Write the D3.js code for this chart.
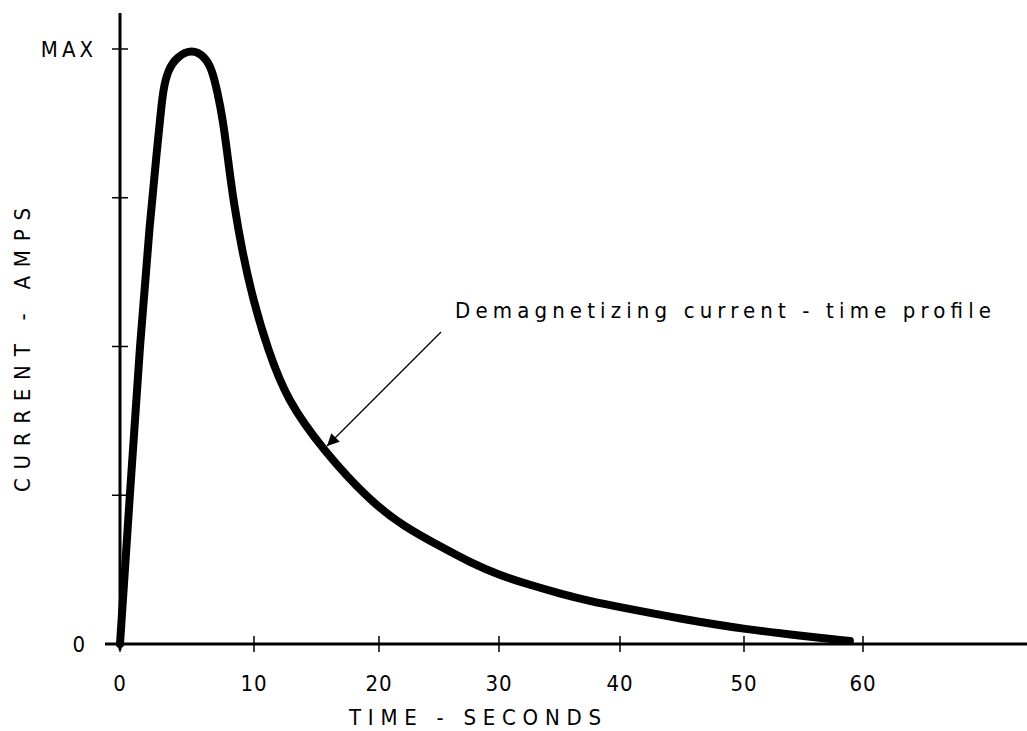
<!DOCTYPE html>
<html>
<head>
<meta charset="utf-8">
<script src="https://cdn.jsdelivr.net/npm/d3@7"></script>
<style>
  body { margin: 0; background: #fff; }
  text { font-family: "DejaVu Sans Condensed", "DejaVu Sans", sans-serif; fill: #000; }
</style>
</head>
<body>
<svg id="chart" width="1027" height="731"></svg>
<script>
// curve: time in seconds, current as fraction of MAX
const timeSec = [0, 0.75, 1.49, 2.24, 2.76, 2.99, 3.21, 3.58, 4.25, 5.37, 6.34, 6.87, 7.24, 7.69, 8.14, 8.5, 9.1, 9.93, 11.12, 12.64, 15.52,
  19.28, 22.1, 25.2, 27.7, 30, 32.6, 35, 37.5, 40, 45, 50, 55, 58.9];
const current = [0, 0.255, 0.506, 0.713, 0.83, 0.881, 0.931, 0.965, 0.987, 1.0, 0.987, 0.965, 0.931, 0.881, 0.8, 0.74, 0.662, 0.578, 0.494, 0.41, 0.326,
  0.24, 0.197, 0.163, 0.136, 0.116, 0.099, 0.085, 0.072, 0.062, 0.042, 0.025, 0.0134, 0.005];

const xTicks = [0, 10, 20, 30, 40, 50, 60];
const yTicks = [0, 0.25, 0.5, 0.75, 1];
const yTickLabels = ["0", "", "", "", "MAX"];

const xTitle = "TIME  -   SECONDS";
const yTitle = "CURRENT  -   AMPS";
const note = "Demagnetizing  current - time  profile";
const noteT = 15.52, noteV = 0.326; // arrow points at curve here

const svg = d3.select("#chart");

// hand drawn axis: tick spacing not quite even, so use a polylinear scale
const x = d3.scaleLinear().domain(xTicks).range([120, 254, 379, 499, 620, 744, 863]);
const y = d3.scaleLinear().domain([0, 1]).range([644, 49]);

// axis lines
svg.append("line").attr("x1", 105).attr("x2", 1027).attr("y1", y(0)).attr("y2", y(0))
  .attr("stroke", "#000").attr("stroke-width", 3);
svg.append("line").attr("x1", x(0)).attr("x2", x(0)).attr("y1", 13).attr("y2", 650)
  .attr("stroke", "#000").attr("stroke-width", 3);

// x ticks and labels
const xAxis = svg.append("g");
xAxis.selectAll("line").data(xTicks).enter().append("line")
  .attr("x1", d => x(d)).attr("x2", d => x(d))
  .attr("y1", y(0) - 8).attr("y2", y(0) + 8)
  .attr("stroke", "#000").attr("stroke-width", 1.5);
xAxis.selectAll("text").data(xTicks).enter().append("text")
  .attr("x", d => x(d)).attr("y", 691)
  .attr("text-anchor", "middle")
  .style("font-size", "22px").style("letter-spacing", "1px")
  .text(d => d);

// y ticks and labels
const yAxis = svg.append("g");
yAxis.selectAll("line").data(yTicks).enter().append("line")
  .attr("x1", x(0) - 8).attr("x2", x(0) + 8)
  .attr("y1", d => y(d)).attr("y2", d => y(d))
  .attr("stroke", "#000").attr("stroke-width", 1.5);
yAxis.selectAll("text").data(yTicks).enter().append("text")
  .attr("x", d => d === 0 ? 89 : 97).attr("y", d => y(d) + 8)
  .attr("text-anchor", "end")
  .style("font-size", "22px").style("letter-spacing", "4px")
  .text((d, i) => yTickLabels[i]);

// axis titles
svg.append("text")
  .attr("x", 349).attr("y", 725)
  .attr("textLength", 252).attr("lengthAdjust", "spacing")
  .style("font-size", "22px")
  .text(xTitle);
svg.append("text")
  .attr("transform", "translate(30,492) rotate(-90)")
  .attr("textLength", 284).attr("lengthAdjust", "spacing")
  .style("font-size", "22px")
  .text(yTitle);

// the profile curve, smoothed like the hand drawn original
const points = timeSec.map((t, i) => [t, current[i]]);
const line = d3.line()
  .x(d => x(d[0]))
  .y(d => y(d[1]))
  .curve(d3.curveBasis);
svg.append("path")
  .attr("d", line(points))
  .attr("fill", "none")
  .attr("stroke", "#000")
  .attr("stroke-width", 8)
  .attr("stroke-linecap", "round")
  .attr("stroke-linejoin", "round");

// annotation with arrow
svg.append("defs").append("marker")
  .attr("id", "head")
  .attr("viewBox", "0 0 10 10")
  .attr("refX", 10).attr("refY", 5)
  .attr("markerUnits", "userSpaceOnUse")
  .attr("markerWidth", 20).attr("markerHeight", 12)
  .attr("orient", "auto")
  .append("path").attr("d", "M0,0L10,5L0,10Z").attr("fill", "#000");

const tipX = x(noteT) + 4, tipY = y(noteV) - 4;
svg.append("line")
  .attr("x1", tipX + 114).attr("y1", tipY - 114)
  .attr("x2", tipX).attr("y2", tipY)
  .attr("stroke", "#000").attr("stroke-width", 1.2)
  .attr("marker-end", "url(#head)");

svg.append("text")
  .attr("x", 455).attr("y", 318)
  .attr("textLength", 536).attr("lengthAdjust", "spacing")
  .style("font-size", "22px")
  .text(note);
</script>
</body>
</html>
